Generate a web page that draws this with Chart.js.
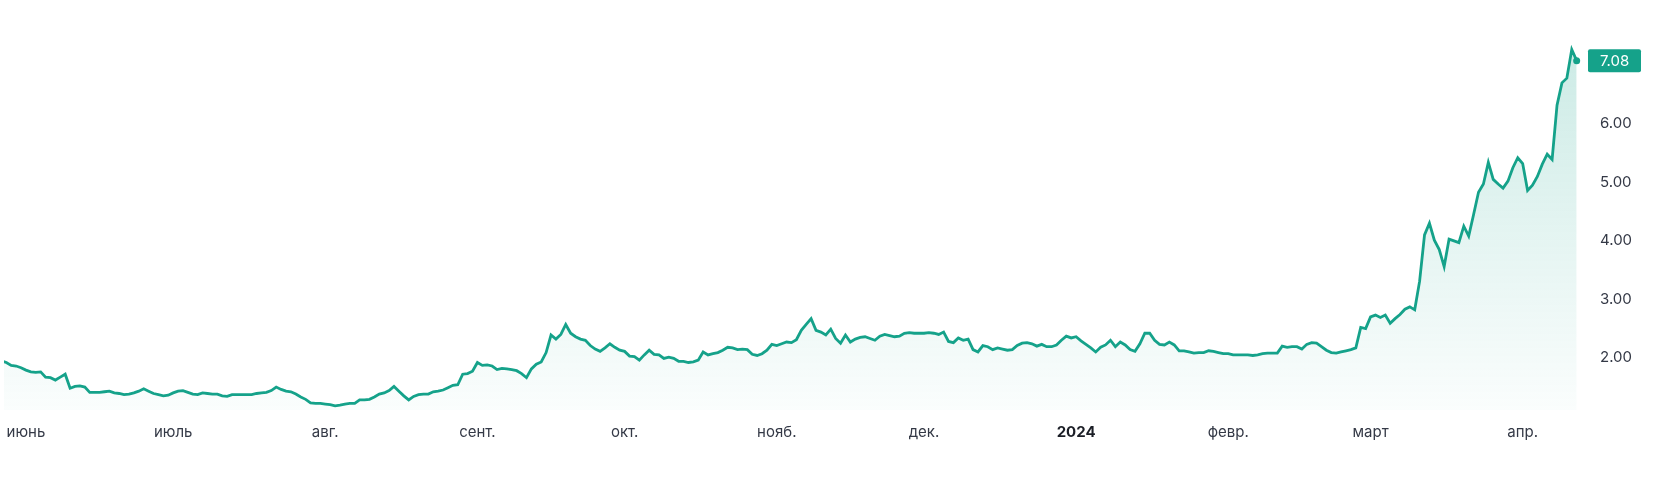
<!DOCTYPE html>
<html lang="ru">
<head>
<meta charset="utf-8">
<title>Price chart</title>
<script src="https://cdn.jsdelivr.net/npm/chart.js@4.4.1/dist/chart.umd.min.js"></script>
<style>
    html, body { margin: 0; padding: 0; background: #ffffff; }
    #wrap { width: 1680px; height: 477px; }
</style>
</head>
<body>
<div id="wrap"><canvas id="priceChart" width="1680" height="477"></canvas></div>
<script>
// one close per day, starting 27 May 2023
const startDate = [2023, 4, 27];
const prices = [
    1.95, 1.92, 1.87, 1.86, 1.83, 1.79, 1.76, 1.75, 1.76, 1.67,
    1.66, 1.62, 1.67, 1.72, 1.48, 1.51, 1.52, 1.50, 1.41, 1.41,
    1.41, 1.42, 1.43, 1.40, 1.39, 1.37, 1.38, 1.40, 1.43, 1.47,
    1.43, 1.39, 1.37, 1.35, 1.36, 1.40, 1.43, 1.44, 1.41, 1.38,
    1.37, 1.40, 1.39, 1.38, 1.38, 1.35, 1.34, 1.37, 1.37, 1.37,
    1.37, 1.37, 1.39, 1.40, 1.41, 1.44, 1.50, 1.46, 1.43, 1.42,
    1.38, 1.33, 1.29, 1.23, 1.22, 1.22, 1.21, 1.20, 1.18, 1.19,
    1.21, 1.22, 1.22, 1.28, 1.28, 1.29, 1.33, 1.38, 1.40, 1.44,
    1.51, 1.43, 1.35, 1.28, 1.34, 1.37, 1.38, 1.38, 1.42, 1.43,
    1.45, 1.49, 1.53, 1.54, 1.72, 1.73, 1.77, 1.92, 1.87, 1.88,
    1.86, 1.80, 1.82, 1.81, 1.80, 1.78, 1.73, 1.66, 1.81, 1.89,
    1.93, 2.09, 2.39, 2.32, 2.40, 2.57, 2.42, 2.36, 2.32, 2.30,
    2.21, 2.15, 2.11, 2.17, 2.24, 2.18, 2.13, 2.11, 2.03, 2.02,
    1.96, 2.05, 2.13, 2.06, 2.05, 1.99, 2.01, 1.99, 1.94, 1.94,
    1.92, 1.93, 1.96, 2.10, 2.05, 2.07, 2.09, 2.13, 2.18, 2.17,
    2.14, 2.15, 2.14, 2.06, 2.04, 2.07, 2.13, 2.23, 2.21, 2.24,
    2.27, 2.26, 2.31, 2.47, 2.57, 2.67, 2.47, 2.44, 2.39, 2.49,
    2.33, 2.25, 2.39, 2.27, 2.32, 2.35, 2.36, 2.33, 2.30, 2.37,
    2.40, 2.38, 2.36, 2.37, 2.42, 2.43, 2.42, 2.42, 2.42, 2.43,
    2.42, 2.40, 2.44, 2.28, 2.26, 2.34, 2.30, 2.32, 2.14, 2.10,
    2.21, 2.19, 2.14, 2.17, 2.15, 2.13, 2.14, 2.21, 2.25, 2.26,
    2.24, 2.20, 2.23, 2.19, 2.19, 2.22, 2.30, 2.37, 2.34, 2.36,
    2.29, 2.23, 2.17, 2.10, 2.18, 2.22, 2.30, 2.19, 2.27, 2.22,
    2.14, 2.11, 2.24, 2.42, 2.42, 2.30, 2.23, 2.22, 2.27, 2.22,
    2.12, 2.12, 2.10, 2.08, 2.09, 2.09, 2.12, 2.11, 2.09, 2.07,
    2.07, 2.05, 2.05, 2.05, 2.05, 2.04, 2.05, 2.07, 2.08, 2.08,
    2.08, 2.20, 2.18, 2.19, 2.19, 2.15, 2.23, 2.26, 2.25, 2.19,
    2.13, 2.09, 2.08, 2.10, 2.12, 2.14, 2.17, 2.52, 2.50, 2.70,
    2.73, 2.69, 2.73, 2.59, 2.67, 2.74, 2.83, 2.87, 2.82, 3.31,
    4.10, 4.30, 4.01, 3.85, 3.56, 4.03, 4.00, 3.97, 4.25, 4.08,
    4.45, 4.83, 4.97, 5.34, 5.05, 4.97, 4.90, 5.02, 5.25, 5.42,
    5.32, 4.86, 4.95, 5.10, 5.31, 5.48, 5.39, 6.32, 6.70, 6.78,
    7.27, 7.08
];
const monthNames = ['янв.', 'февр.', 'март', 'апр.', 'май', 'июнь', 'июль', 'авг.', 'сент.', 'окт.', 'нояб.', 'дек.'];
const priceTicks = [2, 3, 4, 5, 6];
const lastPrice = 7.08;

const lineColor = '#15a28a';
const fontFamily = 'Inter, "Noto Sans", sans-serif';

const dates = prices.map((_, i) => new Date(startDate[0], startDate[1], startDate[2] + i));
const monthStarts = [];
dates.forEach((d, i) => {
    if (d.getDate() === 1) monthStarts.push(i);
});

function isYearStart(i) {
    return dates[i] && dates[i].getMonth() === 0;
}

function tickLabel(i) {
    const d = dates[i];
    if (!d) return '';
    return isYearStart(i) ? String(d.getFullYear()) : monthNames[d.getMonth()];
}

// price tag on the right scale
const lastPricePlugin = {
    id: 'lastPrice',
    afterDraw(chart) {
        const { ctx, chartArea, scales } = chart;
        const y = scales.y.getPixelForValue(lastPrice);
        ctx.save();
        ctx.fillStyle = lineColor;
        ctx.beginPath();
        ctx.roundRect(chartArea.right + 3, y - 11.5, 53, 23, 2);
        ctx.fill();
        ctx.fillStyle = '#ffffff';
        ctx.font = '15px ' + fontFamily;
        ctx.textBaseline = 'middle';
        ctx.textAlign = 'left';
        ctx.fillText(lastPrice.toFixed(2), chartArea.right + 15, y + 1);
        ctx.restore();
    }
};

const ctx = document.getElementById('priceChart').getContext('2d');
new Chart(ctx, {
    type: 'line',
    data: {
        datasets: [{
            data: prices.map((v, i) => ({ x: i, y: v })),
            borderColor: lineColor,
            borderWidth: 2.8,
            tension: 0,
            fill: 'start',
            backgroundColor: (c) => {
                const area = c.chart.chartArea;
                if (!area) return 'rgba(21,162,138,0.1)';
                const g = c.chart.ctx.createLinearGradient(0, area.top, 0, area.bottom);
                g.addColorStop(0, 'rgba(21,162,138,0.24)');
                g.addColorStop(1, 'rgba(21,162,138,0.02)');
                return g;
            },
            pointRadius: (c) => c.dataIndex === prices.length - 1 ? 3.5 : 0,
            pointBackgroundColor: lineColor,
            pointBorderWidth: 0,
        }]
    },
    options: {
        responsive: false,
        animation: false,
        layout: { padding: 0 },
        plugins: {
            legend: { display: false },
            tooltip: { enabled: false },
        },
        scales: {
            x: {
                type: 'linear',
                position: 'bottom',
                min: 0.53,
                max: 322.7,
                grid: { display: false, drawTicks: false },
                border: { display: false },
                afterBuildTicks: (axis) => {
                    axis.ticks = monthStarts.map(v => ({ value: v }));
                },
                afterFit: (s) => {
                    s.height = 67;
                    s.paddingLeft = 0;
                    s.paddingRight = 0;
                },
                ticks: {
                    autoSkip: false,
                    maxRotation: 0,
                    padding: 13,
                    callback: (v) => tickLabel(v),
                    font: (c) => ({
                        family: fontFamily,
                        size: 15,
                        weight: c.tick && isYearStart(c.tick.value) ? '700' : '400'
                    }),
                    color: (c) => c.tick && isYearStart(c.tick.value) ? '#1b1e26' : '#343946',
                }
            },
            y: {
                type: 'linear',
                position: 'right',
                min: 1.108,
                max: 8.048,
                grid: { display: false, drawTicks: false },
                border: { display: false },
                afterBuildTicks: (axis) => {
                    axis.ticks = priceTicks.map(v => ({ value: v }));
                },
                afterFit: (s) => {
                    s.width = 95;
                    s.paddingTop = 0;
                    s.paddingBottom = 0;
                },
                ticks: {
                    padding: 15,
                    callback: (v) => v.toFixed(2),
                    font: { family: fontFamily, size: 15 },
                    color: '#343946',
                }
            }
        }
    },
    plugins: [lastPricePlugin]
});
</script>
</body>
</html>
